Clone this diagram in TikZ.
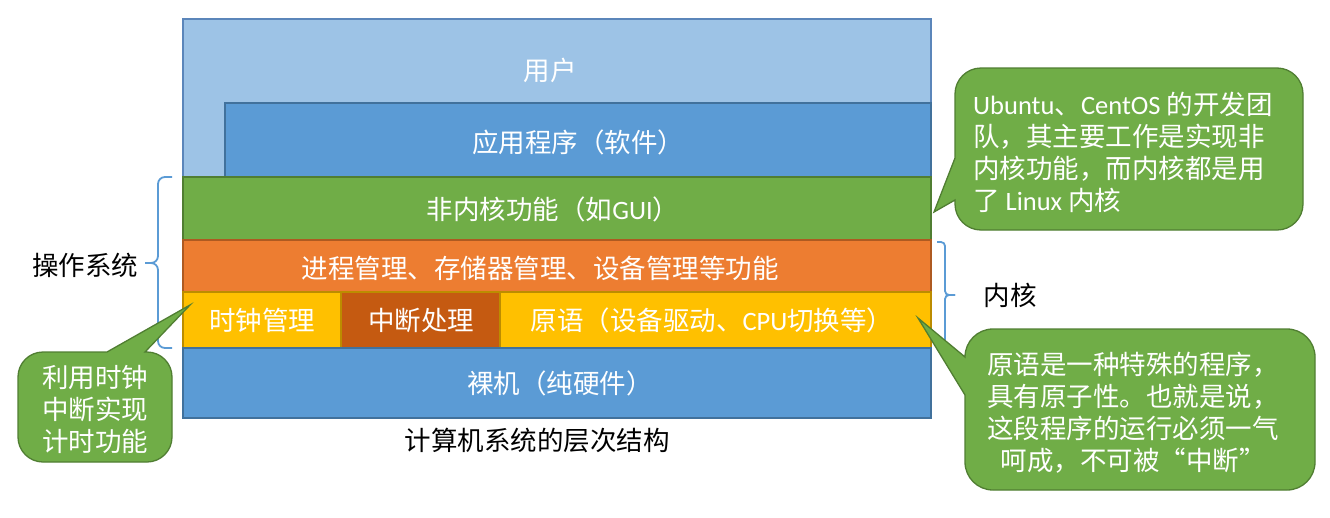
\documentclass[tikz,border=0pt]{standalone}
\usepackage{fontspec}
\setmainfont{Noto Sans CJK SC}
\newfontfamily\lat{Carlito}
\definecolor{lblue}{HTML}{9DC3E6}
\definecolor{lblueD}{HTML}{5B86BA}
\definecolor{mblue}{HTML}{5B9BD5}
\definecolor{mblueD}{HTML}{41719C}
\definecolor{lgreen}{HTML}{70AD47}
\definecolor{lgreenD}{HTML}{507E32}
\definecolor{lorange}{HTML}{ED7D31}
\definecolor{lorangeD}{HTML}{AE5A21}
\definecolor{lyellow}{HTML}{FFC000}
\definecolor{lyellowD}{HTML}{BC8C00}
\definecolor{dorange}{HTML}{C55A11}
\definecolor{braceblue}{HTML}{5B9BD5}
\begin{document}
\begin{tikzpicture}[x=1pt,y=-1pt,
  layer/.style={line width=1.2pt},
  lbl/.style={text=white, font=\fontsize{26.5}{32}\selectfont, inner sep=0pt},
  blk/.style={text=black, font=\fontsize{26.5}{32}\selectfont, inner sep=0pt},
  bracepath/.style={draw=braceblue, line width=1.8pt, rounded corners=#1},
  callout/.style={fill=lgreen, draw=lgreenD, line width=1.3pt},
  ctext/.style={text=white, font=\fontsize{26.5}{32}\selectfont, inner sep=0pt}]
\useasboundingbox (0,0) rectangle (1330,517);
% layers
\draw[layer, fill=lblue, draw=lblueD] (183,19) rectangle (931,418);
\node[lbl] (user) at (550,70) {用户};
\draw[layer, fill=mblue, draw=mblueD] (225,103) rectangle (931,177);
\node[lbl] (app) at (578,142) {应用程序（软件）};
\draw[layer, fill=lgreen, draw=lgreenD] (183,177) rectangle (931,240);
\node[lbl] (gui) at (553,209) {非内核功能（如{\lat GUI}）};
\draw[layer, fill=lorange, draw=lorangeD] (183,240) rectangle (931,292);
\node[lbl] (proc) at (540,268) {进程管理、存储器管理、设备管理等功能};
\draw[layer, fill=lyellow, draw=lyellowD] (183,292) rectangle (931,348);
\draw[layer, fill=dorange, draw=lyellowD] (341,292) rectangle (500,348);
\node[lbl] (clock) at (262,320) {时钟管理};
\node[lbl] (intr) at (421,320) {中断处理};
\node[lbl] (prim) at (712,320) {原语（设备驱动、{\lat CPU}切换等）};
\draw[layer, fill=mblue, draw=mblueD] (183,348) rectangle (931,418);
\node[lbl] (bare) at (560,383) {裸机（纯硬件）};
\node[blk] (caption) at (537,440) {计算机系统的层次结构};
% braces
\draw[bracepath=7] (172,177) -- (158,177) -- (158,263) -- (145,263);
\draw[bracepath=7] (172,348) -- (158,348) -- (158,263) -- (145,263);
\node[blk] (os) at (85,265) {操作系统};
\draw[bracepath=4] (937,242) -- (945,242) -- (945,295) -- (955,295);
\draw[bracepath=4] (937,347) -- (945,347) -- (945,295) -- (955,295);
\node[blk] (kernel) at (1010,295) {内核};
% callout A
\draw[callout] (981,68) -- (1277,68) arc[start angle=270,end angle=360,radius=26]
  -- (1303,204) arc[start angle=0,end angle=90,radius=26]
  -- (981,230) arc[start angle=90,end angle=180,radius=26]
  -- (955,200) -- (934,212) -- (955,158)
  -- (955,94) arc[start angle=180,end angle=270,radius=26] -- cycle;
\node[ctext, align=left, anchor=west] (ca) at (973,152)
  {{\lat Ubuntu}、{\lat CentOS} 的开发团\\队，其主要工作是实现非\\内核功能，而内核都是用\\了 {\lat Linux} 内核};
% callout B
\draw[callout] (993,329) -- (1287,329) arc[start angle=270,end angle=360,radius=28]
  -- (1315,462) arc[start angle=0,end angle=90,radius=28]
  -- (993,490) arc[start angle=90,end angle=180,radius=28]
  -- (965,395) -- (918,318) -- (965,357)
  arc[start angle=180,end angle=270,radius=28] -- cycle;
\node[ctext, align=center] (cb) at (1133,413)
  {原语是一种特殊的程序，\\具有原子性。也就是说，\\这段程序的运行必须一气\\呵成，不可被“中断”};
% callout C
\draw[callout] (43,352) -- (107,352) -- (190,305) -- (145,352)
  -- (147,352) arc[start angle=270,end angle=360,radius=25]
  -- (172,437) arc[start angle=0,end angle=90,radius=25]
  -- (43,462) arc[start angle=90,end angle=180,radius=25]
  -- (18,377) arc[start angle=180,end angle=270,radius=25] -- cycle;
\node[ctext, align=center] (cc) at (95,409) {利用时钟\\中断实现\\计时功能};
\end{tikzpicture}
\end{document}
